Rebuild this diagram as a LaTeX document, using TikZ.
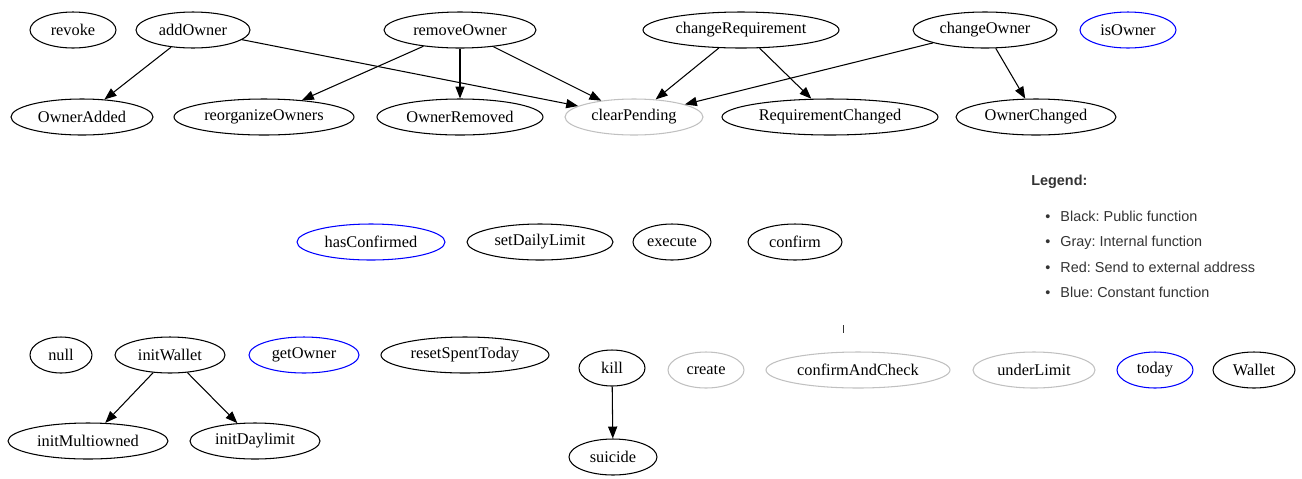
\documentclass[tikz,border=0pt]{standalone}
\usepackage{fontspec}
\setmainfont{Liberation Serif}
\newfontfamily\legendfont{Liberation Sans}
\usetikzlibrary{positioning,calc,shapes.geometric,arrows.meta}
\definecolor{internalgray}{RGB}{192,192,192}
\definecolor{legendtext}{RGB}{51,51,51}
\frenchspacing
\tikzset{
  fn/.style={ellipse, draw, line width=0.6pt, minimum height=0.72cm,
    inner sep=0pt, minimum width=#1, font=\fontsize{9.3}{11}\selectfont},
  internal/.style={fn=#1, draw=internalgray},
  constant/.style={fn=#1, draw=blue},
  call/.style={-{Triangle[length=6.8pt,width=5.2pt]}, line width=0.6pt},
  legitem/.style={anchor=base west, inner sep=0pt, text=legendtext,
    font=\legendfont\fontsize{8.2}{10}\selectfont},
}
\begin{document}
\begin{tikzpicture}[x=0.02cm, y=-0.02cm]
    \useasboundingbox (0,0) rectangle (1302,478);

    % top row
    \node[fn=1.72cm] (revoke) at (73,30) {revoke};
    \node[fn=2.28cm] (addOwner) at (193,30) {addOwner};
    \node[fn=3.04cm] (removeOwner) at (460,30) {removeOwner};
    \node[fn=3.92cm] (changeRequirement) at (741,30) {changeRequirement};
    \node[fn=2.88cm] (changeOwner) at (985,30) {changeOwner};
    \node[constant=1.92cm] (isOwner) at (1128,30) {isOwner};

    \node[fn=2.84cm] (OwnerAdded) at (82,117) {OwnerAdded};
    \node[fn=3.6cm] (reorganizeOwners) at (264,117) {reorganizeOwners};
    \node[fn=3.32cm] (OwnerRemoved) at (460,117) {OwnerRemoved};
    \node[internal=2.76cm] (clearPending) at (634,117) {clearPending};
    \node[fn=4.32cm] (RequirementChanged) at (830,117) {RequirementChanged};
    \node[fn=3.2cm] (OwnerChanged) at (1036,117) {OwnerChanged};

    % middle row
    \node[constant=2.96cm] (hasConfirmed) at (371,242) {hasConfirmed};
    \node[fn=2.92cm] (setDailyLimit) at (540,242) {setDailyLimit};
    \node[fn=1.56cm] (execute) at (672,242) {execute};
    \node[fn=1.88cm] (confirm) at (795,242) {confirm};

    % bottom rows
    \node[fn=1.24cm] (null) at (61,355) {null};
    \node[fn=2.2cm] (initWallet) at (170,355) {initWallet};
    \node[constant=2.2cm] (getOwner) at (304,355) {getOwner};
    \node[fn=3.36cm] (resetSpentToday) at (465,355) {resetSpentToday};
    \node[fn=1.32cm] (kill) at (612,368) {kill};
    \node[internal=1.52cm] (create) at (706,370) {create};
    \node[internal=3.68cm] (confirmAndCheck) at (858,370) {confirmAndCheck};
    \node[internal=2.44cm] (underLimit) at (1034,370) {underLimit};
    \node[constant=1.52cm] (today) at (1155,370) {today};
    \node[fn=1.64cm] (Wallet) at (1254,370) {Wallet};

    \node[fn=3.2cm] (initMultiowned) at (88,441) {initMultiowned};
    \node[fn=2.6cm] (initDaylimit) at (255,441) {initDaylimit};
    \node[fn=1.76cm] (suicide) at (613,457) {suicide};

    \draw[line width=0.5pt, legendtext] (843,325) -- (843,333);

    \path[call]
        (addOwner) edge (OwnerAdded)
        (addOwner) edge (clearPending)
        (removeOwner) edge (reorganizeOwners)
        (removeOwner) edge (OwnerRemoved)
        (removeOwner) edge (clearPending)
        (changeRequirement) edge (clearPending)
        (changeRequirement) edge (RequirementChanged)
        (changeOwner) edge (clearPending)
        (changeOwner) edge (OwnerChanged);
    \path[call]
        (initWallet) edge (initMultiowned)
        (initWallet) edge (initDaylimit)
        (kill) edge (suicide);

    % legend
    \node[legitem, font=\legendfont\bfseries\fontsize{8.2}{10}\selectfont] (legend) at (1031,185) {Legend:};
    \node[legitem] (lblack) at (1045,221) {\makebox[8.6pt][l]{•}Black: Public function};
    \node[legitem] (lgray) at (1045,246) {\makebox[8.6pt][l]{•}Gray: Internal function};
    \node[legitem] (lred) at (1045,272) {\makebox[8.6pt][l]{•}Red: Send to external address};
    \node[legitem] (lblue) at (1045,297) {\makebox[8.6pt][l]{•}Blue: Constant function};
\end{tikzpicture}
\end{document}
